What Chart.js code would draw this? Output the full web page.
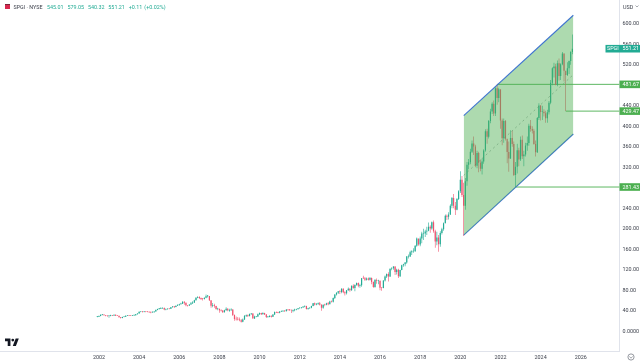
<!DOCTYPE html>
<html>
<head>
<meta charset="utf-8">
<title>SPGI</title>
<script src="https://cdn.jsdelivr.net/npm/chart.js@4"></script>
<style>
  html, body { margin: 0; padding: 0; background: #fff; overflow: hidden; }
  #wrap { position: relative; width: 640px; height: 362px; font-family: Roboto, "Liberation Sans", sans-serif; filter: blur(0.35px); }
  canvas { position: absolute; left: 0; top: 0; }
  .txt { position: absolute; white-space: pre; font-size: 5.4px; line-height: 8px; }
  #sym { left: 13.5px; top: 2.5px; color: #3b3f4a; }
  #ohlc { left: 47px; top: 2.5px; color: #22ab94; word-spacing: 0.6px; }
  #usd { left: 623px; top: 2.5px; color: #3b3f4a; }
  #flag { position: absolute; left: 5px; top: 4px; width: 5px; height: 5px; background: linear-gradient(#7a2438 30%, #d8284f 30%); }
  #logo { position: absolute; left: 5px; top: 338px; }
  #face { position: absolute; left: 627px; top: 353px; }
  #chev { position: absolute; left: 635px; top: 5px; }
</style>
</head>
<body>
<div id="wrap">
  <canvas id="myChart" width="640" height="362"></canvas>
  <div id="flag"></div>
  <div class="txt" id="sym">SPGI · NYSE</div>
  <div class="txt" id="ohlc">545.01  579.05  540.32  551.21  +0.11 (+0.02%)</div>
  <div class="txt" id="usd">USD</div>
  <svg id="chev" width="4" height="3" viewBox="0 0 4 3"><path d="M0.5 0.5 L2 2 L3.5 0.5" fill="none" stroke="#6a6e78" stroke-width="0.6"/></svg>
  <svg id="logo" width="14" height="8" viewBox="0 0 36 20"><path d="M14 20H7V8H0V1h14zM28 20h-8l7.5-19h8z" fill="#131722"/><circle cx="20" cy="5" r="3.6" fill="#131722"/></svg>
  <svg id="face" width="8" height="8" viewBox="0 0 8 8"><circle cx="4" cy="4" r="3.1" fill="none" stroke="#6a6e78" stroke-width="0.7"/><path d="M2.4 3.4 L4 5.2 L5.6 3.4" fill="none" stroke="#6a6e78" stroke-width="0.6"/></svg>
</div>
<script>
// monthly candles, first one is Dec 2001
const startYear = 2001 + 11 / 12;

const closes = [
  28.5,
  30, 32.5, 32.8, 31.5, 30.2, 29.8, 30.5, 31, 30.6, 32.2, 30.5, 30.2,
  27.5, 26.2, 27.8, 28.5, 30.2, 31, 30.6, 30.2, 31, 31.2, 33.2, 34.9,
  38, 38.5, 38.2, 38.8, 38.2, 37.5, 37.2, 36.8, 37.2, 38.8, 41.8, 43.6,
  44, 45.5, 45.5, 42.5, 42.8, 44.2, 44, 47, 48, 47.6, 50, 51.5,
  53, 54, 57.5, 55.5, 50.8, 50.2, 52.4, 54.8, 56, 60.8, 65.5, 67,
  65, 63, 62.8, 65.5, 68.5, 69, 60.5, 50, 50.8, 49.5, 43.5, 43.8,
  41, 40.5, 37, 41, 44, 41, 41, 42.5, 32, 24, 23.5, 23.2,
  21.5, 18.5, 22.8, 30, 30.5, 30, 33.8, 34.5, 25.1, 28.7, 29, 33.5,
  35.5, 33.5, 35.6, 33, 27.7, 28.1, 30.5, 28.4, 33, 37.6, 36.5, 36.4,
  38.5, 39.2, 39.4, 39.2, 42.5, 41.9, 41.2, 41, 41, 42.5, 43.3, 45,
  46, 46.5, 48.5, 49.3, 43.5, 45, 46, 49.5, 54.6, 52.5, 53, 54.7,
  52, 46, 52, 51.8, 54.6, 53, 58, 57.5, 65, 72, 75, 78,
  76.5, 83, 76, 74, 80, 83, 80, 89, 84.5, 90.5, 94, 89,
  90, 103.5, 103.4, 100.5, 103, 100.5, 104, 96, 86.5, 100, 98.5, 98.6,
  85, 84.5, 99, 106.7, 112, 107, 122, 123, 126.5, 115.5, 120, 107.5,
  119.5, 129, 130.7, 134, 146, 146, 154, 156, 156.3, 167, 181, 169.4,
  181, 191, 191, 194.5, 196.3, 204, 200.5, 212.5, 195.4, 175.4, 183, 170,
  191.6, 199, 210.6, 225.5, 223.3, 227.8, 245, 260, 245, 236.9, 258, 273,
  295.8, 265.7, 245, 292.7, 325, 329.5, 350, 366.4, 360.6, 323, 348, 328.7,
  317, 331.4, 352.9, 390, 379.5, 410, 428.6, 444, 424.9, 474, 455, 472,
  411, 376.7, 410, 375.8, 349.5, 337, 376.9, 365.3, 304.9, 321, 353.3, 335,
  373.8, 341.3, 344.8, 362.6, 367.4, 400.9, 394.5, 391, 365.4, 349.3, 415.9, 440.5,
  427.8, 428, 425.4, 415.8, 427.2, 446, 484.8, 513, 516.6, 480.5, 523, 498,
  521, 542, 508, 500, 513, 527, 545.01, 551.21
];

const highs = [
  29.5,
  31, 33, 33.5, 33, 31.8, 31, 31.5, 32.5, 31.8, 33, 33, 31.5,
  30.5, 28, 28.5, 29.5, 30.8, 31.8, 32, 31.5, 32, 32.5, 33.8, 35.2,
  38.5, 39.2, 39.5, 39.5, 39.2, 39, 38.5, 38, 38.5, 39.2, 42.5, 44,
  45.5, 46.8, 47, 46.2, 44.5, 45, 45.2, 47.5, 49.5, 49, 50.5, 53,
  54, 55.5, 58.5, 58.5, 56, 51.5, 53, 57, 58.5, 61.5, 66.5, 68.5,
  68.5, 66, 65, 66, 72, 71, 69, 60, 55, 54, 50, 46,
  44, 43, 41, 42, 47, 45, 44, 45, 43, 33, 29, 28,
  27, 24, 25, 32, 33, 33, 34.5, 35.5, 35, 30.5, 30, 34.5,
  36.5, 36, 37, 36, 34, 30, 31, 31, 33.5, 38.5, 38.5, 38,
  39, 40.5, 40, 40.5, 43, 43, 43.5, 42, 42.5, 44, 44, 45.5,
  47, 47.5, 49, 50, 50, 46, 47, 50, 55, 56, 54.5, 56,
  57, 53, 52.5, 54, 55.5, 57, 59.5, 60, 66, 72.5, 76, 78.5,
  80, 84, 84, 78, 80.5, 85.5, 84, 89.5, 92, 92, 95, 95,
  93, 104, 108.5, 106, 105, 105, 106, 105, 97, 102, 103, 100.5,
  99, 86, 99.5, 109, 113, 115, 122.5, 125, 127, 127, 122, 122,
  120, 130, 132, 135, 147, 150, 157, 158, 162, 168, 183, 175,
  185, 194, 200, 198, 204, 212, 207, 214, 216, 198, 194, 188,
  195, 202, 212, 228, 228, 232, 248, 262, 268, 252, 260, 275,
  312, 303, 290, 299, 330, 336, 356, 372, 380, 364, 352, 350,
  335, 337, 355, 394, 395, 412, 434, 447, 450, 476, 481.67, 475,
  468, 415, 415, 412, 370, 370, 392, 391, 370, 330, 366, 358,
  380, 382, 352, 368, 380, 405, 412, 400, 395, 372, 418, 445,
  441, 440, 433, 430, 432, 449, 490, 515, 524, 522, 528, 532,
  523, 545, 542, 503, 525, 528, 546, 579.05
];

const lows = [
  27.5,
  28, 29.5, 31.5, 31, 29.5, 28.5, 26.5, 29.5, 30, 29.8, 30, 29.8,
  27, 25, 25.5, 27.5, 28, 29.8, 30, 30, 30, 30.5, 31, 33,
  34.5, 37, 36.5, 37, 37, 37, 36, 35, 36.5, 36.8, 38.5, 41,
  42.5, 43.5, 44.5, 41, 41, 42.5, 43, 43.5, 46.5, 45.5, 47, 50,
  50, 52.5, 53.5, 52, 49, 48.5, 49.5, 52, 53.5, 55, 60, 64.5,
  63, 61, 60, 62, 64.5, 66, 59, 46, 47, 46, 42, 41,
  36, 38.5, 36, 36.5, 40, 39, 38, 40, 30, 20.5, 21, 21,
  19.5, 17, 17.5, 22, 28, 28, 29, 32, 25, 24, 27.5, 28,
  32, 32, 33, 32, 26, 26.5, 27.5, 27, 28, 32, 35.5, 35,
  35, 37.5, 37.5, 38, 39, 40, 40, 35.5, 37, 39, 41, 42,
  44.5, 44.5, 46, 47, 42.5, 42, 44, 45, 49, 50.5, 51, 52.5,
  50.5, 40, 44, 49, 51, 51, 53, 56, 56, 63, 70, 73,
  73, 74, 74, 70, 72, 79, 77, 79, 83, 78, 89, 86,
  85, 87, 102, 98, 99, 99, 99, 92, 85, 85, 93, 92,
  80, 79, 84, 97, 104, 97, 106, 119, 120, 110, 111, 104,
  106, 119, 126, 127, 132, 142, 145, 149, 153, 155, 165, 167,
  166, 172, 178, 184, 188, 195, 192, 198, 192, 163, 168, 155,
  165, 189, 196, 211, 217, 218, 227, 240, 240, 227, 236, 256,
  270, 262, 186, 237, 284, 316, 326, 348, 344, 320, 318, 310,
  312, 306, 327, 350, 366, 376, 406, 424, 420, 420, 442, 447,
  395, 363, 368, 372, 328, 311, 336, 360, 303, 281.43, 308, 322,
  332, 336, 322, 341, 352, 362, 389, 386, 364, 341, 348, 412,
  411, 412, 419, 407, 407, 423, 443, 480, 495, 480, 478, 489,
  490, 519, 487, 429.47, 498, 502, 520, 540.32
];

// parallel channel drawn on the chart
const channelYears = [2020.17, 2025.63];
const channelUpper = [420.5, 616.4];
const channelLower = [187.7, 384.8];
const channelMiddle = [304.1, 500.6];

// horizontal levels, each starts at a pivot and runs to the price axis
const levelPrices = [481.67, 429.47, 281.43];
const levelStarts = [2021.83, 2025.25, 2022.75];
const lastPrice = 551.21;
const symbol = 'SPGI';

const yearTicks = [2002, 2004, 2006, 2008, 2010, 2012, 2014, 2016, 2018, 2020, 2022, 2024, 2026];
const priceTicks = [0, 40, 80, 120, 160, 200, 240, 320, 360, 400, 440, 520, 560, 600];

const upColor = '#22ab94';
const downColor = '#f0506e';
const levelColor = '#4caf50';
const xMin = 1997.07, xMax = 2027.93, yMin = -38.4, yMax = 646.2;

const opens = closes.map((c, i) => (i === 0 ? c - 0.5 : closes[i - 1]));
const candleYears = closes.map((c, i) => startYear + i / 12);
const candleColors = closes.map((c, i) => (c >= opens[i] ? upColor : downColor));

const bodyData = closes.map((c, i) => ({ x: candleYears[i], y: [opens[i], c] }));
const wickData = closes.map((c, i) => ({ x: candleYears[i], y: [lows[i], highs[i]] }));

function channelLine(values) {
    return values.map((v, i) => ({ x: channelYears[i], y: v }));
}

const levelDatasets = levelPrices.map((p, i) => ({
    type: 'line',
    data: [{ x: levelStarts[i], y: p }, { x: xMax, y: p }],
    borderColor: levelColor,
    borderWidth: 0.9,
    pointRadius: 0,
    order: 4
}));

// price tags on the right axis
const priceTags = {
    id: 'priceTags',
    afterDraw(chart) {
        const { ctx, scales: { y }, chartArea } = chart;
        ctx.save();
        ctx.font = '5.4px Roboto, "Liberation Sans", sans-serif';
        ctx.textBaseline = 'middle';
        ctx.textAlign = 'left';
        levelPrices.forEach(p => {
            const py = y.getPixelForValue(p);
            ctx.fillStyle = levelColor;
            ctx.fillRect(chartArea.right, py - 3.8, 640 - chartArea.right, 7.6);
            ctx.fillStyle = '#ffffff';
            ctx.fillText(p.toFixed(2), chartArea.right + 3, py + 0.3);
        });
        const py = y.getPixelForValue(lastPrice);
        ctx.fillStyle = upColor;
        ctx.fillRect(chartArea.right - 14, py - 3.8, 640 - chartArea.right + 14, 7.6);
        ctx.fillStyle = '#ffffff';
        ctx.fillText(symbol, chartArea.right - 12.5, py + 0.3);
        ctx.fillText(lastPrice.toFixed(2), chartArea.right + 3, py + 0.3);
        ctx.restore();
    }
};

const ctx = document.getElementById('myChart').getContext('2d');

new Chart(ctx, {
    type: 'bar',
    data: {
        datasets: [
            // the channel sits over the candles, which is why they look muted inside it
            {
                type: 'line',
                data: channelLine(channelUpper),
                borderColor: '#3f74d0',
                borderWidth: 1.1,
                pointRadius: 0,
                fill: { target: '+1' },
                backgroundColor: 'rgba(76, 175, 80, 0.46)',
                order: 0
            },
            {
                type: 'line',
                data: channelLine(channelLower),
                borderColor: '#3f74d0',
                borderWidth: 1.1,
                pointRadius: 0,
                order: 0
            },
            {
                type: 'line',
                data: channelLine(channelMiddle),
                borderColor: 'rgba(90, 110, 110, 0.7)',
                borderWidth: 0.7,
                borderDash: [2, 3],
                pointRadius: 0,
                order: 0
            },
            ...levelDatasets,
            {
                data: wickData,
                backgroundColor: candleColors,
                barThickness: 0.6,
                grouped: false,
                inflateAmount: 0,
                order: 2
            },
            {
                data: bodyData,
                backgroundColor: candleColors,
                barThickness: 1.2,
                grouped: false,
                inflateAmount: 0,
                minBarLength: 0.6,
                order: 1
            }
        ]
    },
    options: {
        responsive: false,
        animation: false,
        events: [],
        layout: { padding: 0 },
        plugins: { legend: { display: false }, tooltip: { enabled: false } },
        scales: {
            x: {
                type: 'linear',
                min: xMin,
                max: xMax,
                offset: false,
                grid: { display: false, drawTicks: false },
                border: { color: '#e0e3eb' },
                afterFit(scale) {
                    scale.height = 11;
                    scale.paddingLeft = 0;
                    scale.paddingRight = 0;
                },
                ticks: {
                    stepSize: 2,
                    includeBounds: false,
                    autoSkip: false,
                    maxRotation: 0,
                    padding: 3,
                    color: '#3b3f4a',
                    font: { size: 5.4, family: 'Roboto' },
                    callback: v => (yearTicks.includes(v) ? String(v) : '')
                }
            },
            y: {
                position: 'right',
                min: yMin,
                max: yMax,
                grid: { display: false, drawTicks: false },
                border: { color: '#e0e3eb' },
                afterFit(scale) {
                    scale.width = 20.5;
                    scale.paddingTop = 0;
                    scale.paddingBottom = 0;
                },
                ticks: {
                    stepSize: 40,
                    includeBounds: false,
                    autoSkip: false,
                    padding: 3,
                    color: '#3b3f4a',
                    font: { size: 5.4, family: 'Roboto' },
                    callback: v => {
                        if (!priceTicks.includes(v)) return '';
                        return v === 0 ? '0.0000' : v.toFixed(2);
                    }
                }
            }
        }
    },
    plugins: [priceTags]
});
</script>
</body>
</html>
